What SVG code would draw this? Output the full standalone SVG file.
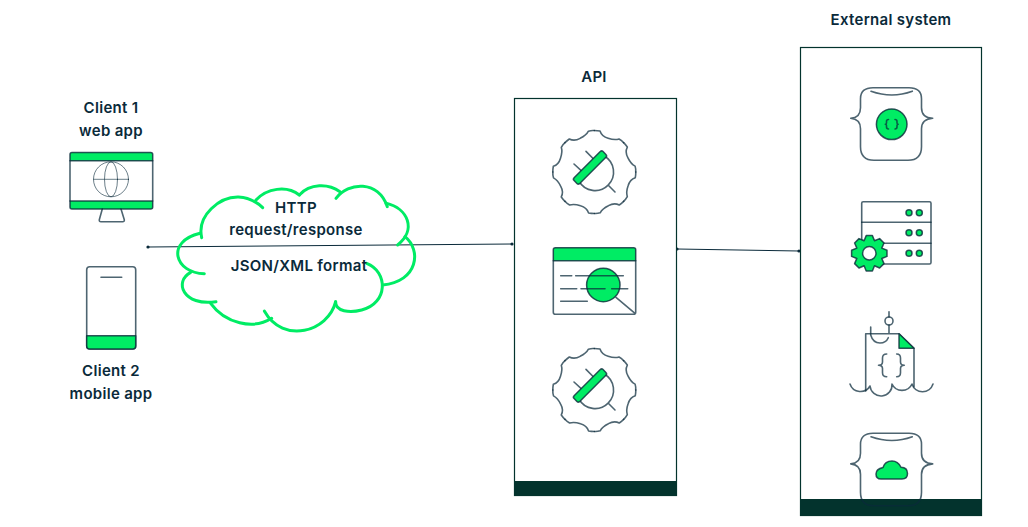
<svg xmlns="http://www.w3.org/2000/svg" width="1028" height="527" viewBox="0 0 1028 527">
<style>
.t{font-family:"Inter","Noto Sans","Liberation Sans",sans-serif;font-weight:600;font-size:15px;letter-spacing:.3px;fill:#0a2a3a;text-anchor:middle}
.i{fill:none;stroke:#0a2a3a;stroke-opacity:.72;stroke-width:1.6;stroke-linecap:round;stroke-linejoin:round}
.g{fill:#00ec64;stroke:#0a2a3a;stroke-opacity:.8;stroke-width:1.5;stroke-linejoin:round}
.c{fill:none;stroke:#00ec64;stroke-width:9;stroke-linecap:round}
.b{fill:#fff;stroke:#03332d;stroke-width:1.2}
.f{fill:#03332d}
.l{fill:none;stroke:#0a2a3a;stroke-width:1}
.d{fill:#0a2a3a}
</style>
<defs>
<g id="gear">
<path id="seg" class="i" d="M41.500 0Q41.500 3 41 5.700C38.500 6.500 35 9.500 33.800 13.800C32.500 17.500 32 21.500 33 24.700Q31.500 27.500 29.300 29.300"/>
<use href="#seg" transform="rotate(45)"/><use href="#seg" transform="rotate(90)"/><use href="#seg" transform="rotate(135)"/><use href="#seg" transform="rotate(180)"/><use href="#seg" transform="rotate(225)"/><use href="#seg" transform="rotate(270)"/><use href="#seg" transform="rotate(315)"/>
<path class="i" d="M9.950-16A18.500 18.500 0 1 1-15.300 9.250M-8.300-20.600L0-12.300M-20.300-8L-12-.4M14 13.300L20.700 20"/>
<rect class="g" x="-20.500" y="-4" width="41" height="8" rx="2" transform="translate(-4.300 -4.500) rotate(-45)"/>
</g>
<path id="brace" class="i" d="M873 0H909Q921.500 0 921.500 11V20Q921.500 30 932.700 30.600Q921.500 31.500 921.500 41V59Q921.500 72.500 908 72.500H874Q860.500 72.500 860.500 59V41Q860.500 31.500 850.700 30.600Q860.500 30 860.500 20V11Q860.500 0 873 0ZM871 3.500Q892 11 912.300 3.500"/>
</defs>

<g id="connectors">
<path class="l" d="M148 247L512 244"/>
<circle class="d" cx="148" cy="247" r="1.600"/><circle class="d" cx="512" cy="244" r="1.600"/>
<path class="l" d="M677 249L799 251"/>
<circle class="d" cx="677" cy="249" r="1.600"/><circle class="d" cx="799" cy="251" r="1.600"/>
</g>

<g id="client1">
<text class="t" x="111" y="113">Client 1</text><text class="t" x="111" y="136">web app</text>
<rect x="70" y="152.500" width="82.700" height="56.500" rx="2" fill="#fff"/>
<path class="g" d="M72 152.500H150.700Q152.700 152.500 152.700 154.500V160.700H70V154.500Q70 152.500 72 152.500ZM70 201H152.700V207Q152.700 209 150.700 209H72Q70 209 70 207Z"/>
<path class="i" d="M70 160.700V201M152.700 160.700V201M102.300 209L99.300 219.700Q99 221.700 101 221.700H122.600Q124.600 221.700 124.300 219.700L121 209"/>
<g class="i" style="stroke-width:1;stroke-opacity:.6"><circle cx="111" cy="179.300" r="17.500"/><ellipse cx="111" cy="179.300" rx="6.500" ry="17.500"/><path d="M93.500 179.300H128.500"/></g>
</g>

<g id="client2">
<rect class="i" x="86.700" y="266.700" width="49" height="82.300" rx="3"/>
<path class="g" d="M86.700 335.700H135.700V346Q135.700 349 132.700 349H89.700Q86.700 349 86.700 346Z"/>
<path class="i" d="M101 277.300H121.700"/>
<text class="t" x="111" y="376">Client 2</text><text class="t" x="111" y="399">mobile app</text>
</g>

<g id="cloud">
<g transform="translate(170 175) scale(.3333)">
<path class="c" d="M95 188C80 120 150 65 205 66C235 68 260 80 278 98"/>
<path class="c" d="M258 75C290 40 350 30 388 60"/>
<path class="c" d="M388 60C420 25 475 25 510 50"/>
<path class="c" d="M498 70C535 20 625 15 652 95"/>
<path class="c" d="M648 85C715 100 740 165 683 210"/>
<path class="c" d="M705 185C755 225 745 320 638 330"/>
<path class="c" d="M590 265C655 290 655 385 575 405C540 414 495 410 497 380"/>
<path class="c" d="M497 380C475 470 340 510 283 408"/>
<path class="c" d="M305 430C250 465 165 445 122 385"/>
<path class="c" d="M138 380C40 395 10 320 62 292"/>
<path class="c" d="M103 296C15 295 -15 200 90 175"/>
</g>
<text class="t" x="296" y="213">HTTP</text><text class="t" x="296" y="235">request/response</text><text class="t" x="299" y="271">JSON/XML format</text>
</g>

<g id="api">
<text class="t" x="594" y="82">API</text>
<rect class="b" x="514.500" y="98.500" width="162" height="397"/>
<rect class="f" x="514" y="481" width="163" height="15"/>
<use href="#gear" transform="translate(594.300 172)"/>
<g>
<path class="g" d="M555.300 247.700H633.700Q635.700 247.700 635.700 249.700V260.700H553.300V249.700Q553.300 247.700 555.300 247.700Z"/>
<path class="i" d="M553.300 260.700V312.300Q553.300 314.300 555.300 314.300H633.700Q635.700 314.300 635.700 312.300V260.700M616 297.300L635 313.300"/>
<circle class="g" cx="603.300" cy="285" r="16.700"/>
<path class="i" d="M560.700 275.700H571.700M575.700 275.700H623.300M560.700 288.700H576.700M581 288.700H605M611.700 288.700H627.700M560.700 301.300H587.300"/>
</g>
<use href="#gear" transform="translate(594.300 390)"/>
</g>

<g id="external">
<text class="t" x="891" y="24.500">External system</text>
<rect class="b" x="800.500" y="47.500" width="181" height="468"/>
<rect class="f" x="800" y="499" width="182" height="17"/>
<g>
<use href="#brace" transform="translate(0 87.700)"/>
<circle class="g" cx="891.700" cy="124.300" r="15.300"/>
<path class="i" d="M888.500 119.500Q886.500 119.500 886.500 121.500V123Q886.500 124.300 885.300 124.300Q886.500 124.300 886.500 125.600V127.100Q886.500 129 888.500 129M895 119.500Q897 119.500 897 121.500V123Q897 124.300 898.200 124.300Q897 124.300 897 125.600V127.100Q897 129 895 129"/>
</g>
<g>
<rect class="i" x="861.700" y="201.700" width="69.300" height="62.300" rx="1.500"/>
<path class="i" d="M861.700 222.300H931M861.700 243.300H931"/>
<g class="g"><circle cx="909" cy="212.700" r="3"/><circle cx="919.300" cy="212.700" r="3"/><circle cx="909" cy="232.700" r="3"/><circle cx="919.300" cy="232.700" r="3"/><circle cx="909" cy="253.300" r="3"/><circle cx="919.300" cy="253.300" r="3"/></g>
<path class="g" transform="translate(869.300 253.300)" d="M17.700-3.100L17.700 3.100L12.500 5.200L14.700 10.300L10.300 14.700L5.200 12.500L3.100 17.700L-3.100 17.700L-5.200 12.500L-10.300 14.700L-14.700 10.300L-12.500 5.200L-17.700 3.100L-17.700-3.100L-12.500-5.200L-14.700-10.300L-10.300-14.700L-5.200-12.500L-3.100-17.700L3.100-17.700L5.200-12.500L10.300-14.700L14.700-10.300L12.500-5.200Z"/>
<circle cx="869.300" cy="253.300" r="6.700" fill="#fff" stroke="#0a2a3a" stroke-opacity=".8" stroke-width="1.500"/>
</g>
<g>
<path class="i" d="M889 311.700V317M889 325V333.700M865.700 391V333.700H899L914 348.300V386.700"/>
<circle class="i" cx="889" cy="321" r="4"/>
<path class="g" d="M899 333.700L914 348.300H899Z"/>
<path class="i" d="M870.700 327V335Q873 343 880 343Q886 343 888.300 337.700"/>
<path class="i" d="M886.700 354Q882.500 354 882.500 358V362Q882.500 365.300 878.500 365.300Q882.500 365.300 882.500 368.600V372.700Q882.500 376.700 886.700 376.700M896.700 354Q900.500 354 900.500 358V362Q900.500 365.300 904.300 365.300Q900.500 365.300 900.500 368.600V372.700Q900.500 376.700 896.700 376.700"/>
<path class="i" d="M850 384A11 11 0 0 0 870 386A11 11 0 0 0 892 384A11 11 0 0 0 912 384A11 11 0 0 0 933 384"/>
</g>
<g>
<use href="#brace" transform="translate(0 433.300)"/>
<path class="g" d="M881 479H902Q907.500 479 907.500 473.500Q907.500 467.500 901 467.300Q898 461 892 461Q885 461 883 467.500Q876 469 876 474Q876 479 881 479Z"/>
</g>
</g>
</svg>
